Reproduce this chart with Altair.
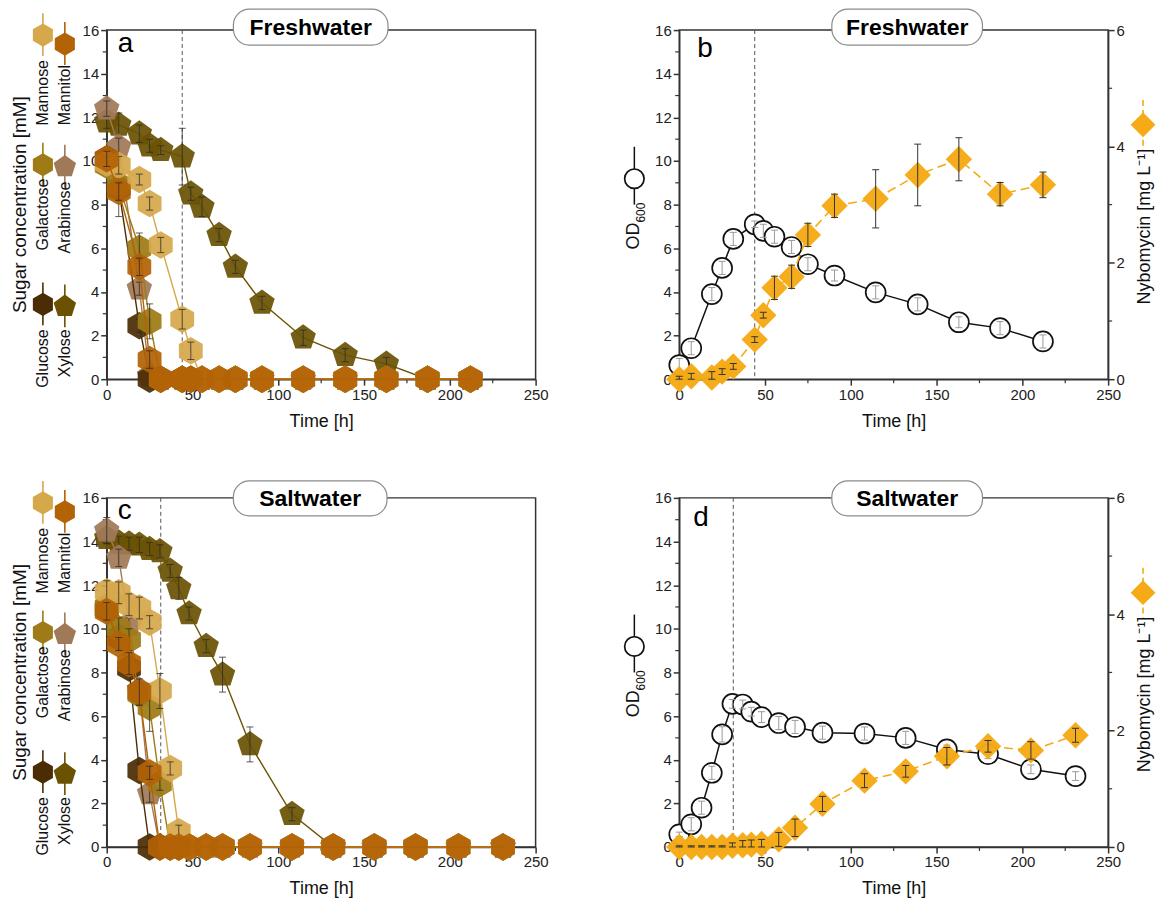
import altair as alt
import pandas as pd

FONT = "Liberation Sans"

# ---------------- data ----------------
fresh_time = [0, 7, 19, 25, 31.5, 44, 49, 55.5, 65.5, 75, 90.5, 114.5, 139, 163, 187, 212]
salt_time = [0, 7, 13, 19, 25, 31, 37, 42, 48, 58, 67.5, 83.5, 108, 132, 156, 180, 205, 231]

fresh_xylose = [11.8, 11.65, 11.25, 10.7, 10.5, 10.2, 8.5, 7.9, 6.6, 5.15, 3.5, 1.9, 1.1, 0.7, 0, 0]
fresh_arabinose = [12.4, 10.65, 4.15, 0.15, 0, 0, 0, 0, 0, 0, 0, 0, 0, 0, 0, 0]
fresh_glucose = [10.1, 8.75, 2.45, 0, 0, 0, 0, 0, 0, 0, 0, 0, 0, 0, 0, 0]
fresh_galactose = [9.8, 8.9, 6.0, 2.65, 0, 0, 0, 0, 0, 0, 0, 0, 0, 0, 0, 0]
fresh_mannose = [9.9, 9.8, 9.15, 8.05, 6.15, 2.75, 1.3, 0, 0, 0, 0, 0, 0, 0, 0, 0]
fresh_mannitol = [10.1, 8.6, 5.15, 0.9, 0, 0, 0, 0, 0, 0, 0, 0, 0, 0, 0, 0]

fresh_xylose_err = [0.3, 0.55, 0.4, 0.3, 0.2, 1.3, 0.3, 0.45, 0.3, 0.3, 0.3, 0.35, 0.3, 0.3, 0, 0]
fresh_arabinose_err = [0.35, 0.4, 0.3, 0.1, 0, 0, 0, 0, 0, 0, 0, 0, 0, 0, 0, 0]
fresh_glucose_err = [0.3, 1.3, 0.3, 0, 0, 0, 0, 0, 0, 0, 0, 0, 0, 0, 0, 0]
fresh_galactose_err = [0.3, 0.5, 0.7, 0.8, 0, 0, 0, 0, 0, 0, 0, 0, 0, 0, 0, 0]
fresh_mannose_err = [0.3, 0.4, 0.25, 0.3, 0.35, 0.45, 0.4, 0, 0, 0, 0, 0, 0, 0, 0, 0]
fresh_mannitol_err = [0.35, 0.4, 0.4, 0.4, 0, 0, 0, 0, 0, 0, 0, 0, 0, 0, 0, 0]

salt_xylose = [14.15, 13.95, 13.9, 13.85, 13.65, 13.55, 12.65, 11.85, 10.7, 9.2, 7.9, 4.7, 1.5, 0, 0, 0, 0, 0]
salt_arabinose = [14.5, 13.25, 10.2, 7.2, 2.45, 0, 0, 0, 0, 0, 0, 0, 0, 0, 0, 0, 0, 0]
salt_glucose = [10.9, 9.6, 8.2, 3.5, 0, 0, 0, 0, 0, 0, 0, 0, 0, 0, 0, 0, 0, 0]
salt_galactose = [11.0, 10.0, 9.5, 7.0, 6.4, 2.9, 0, 0, 0, 0, 0, 0, 0, 0, 0, 0, 0, 0]
salt_mannose = [11.7, 11.65, 11.1, 10.95, 10.3, 7.15, 3.6, 0.7, 0, 0, 0, 0, 0, 0, 0, 0, 0, 0]
salt_mannitol = [10.8, 9.3, 8.4, 7.1, 3.4, 0, 0, 0, 0, 0, 0, 0, 0, 0, 0, 0, 0, 0]

salt_xylose_err = [0.25, 0.3, 0.3, 0.35, 0.3, 0.3, 0.3, 0.5, 0.3, 0.3, 0.8, 0.8, 0.3, 0, 0, 0, 0, 0]
salt_arabinose_err = [0.6, 0.4, 0.3, 0.3, 0.4, 0, 0, 0, 0, 0, 0, 0, 0, 0, 0, 0, 0, 0]
salt_glucose_err = [0.3, 0.3, 0.3, 0.3, 0, 0, 0, 0, 0, 0, 0, 0, 0, 0, 0, 0, 0, 0]
salt_galactose_err = [0.3, 0.5, 0.5, 0.5, 1.1, 0.3, 0, 0, 0, 0, 0, 0, 0, 0, 0, 0, 0, 0]
salt_mannose_err = [0.5, 0.5, 0.5, 0.5, 0.3, 0.8, 0.3, 0.3, 0, 0, 0, 0, 0, 0, 0, 0, 0, 0]
salt_mannitol_err = [0.4, 0.3, 0.5, 0.6, 0.3, 0, 0, 0, 0, 0, 0, 0, 0, 0, 0, 0, 0, 0]

fresh_od = [0.65, 1.42, 3.9, 5.1, 6.43, 7.1, 6.8, 6.53, 6.06, 5.27, 4.75, 3.98, 3.43, 2.61, 2.34, 1.73]
fresh_od_err = [0.3, 0.3, 0.3, 0.3, 0.3, 0.15, 0.3, 0.3, 0.3, 0.3, 0.25, 0.3, 0.3, 0.25, 0.3, 0.3]
fresh_nyb = [0.0, 0.05, 0.03, 0.13, 0.22, 0.68, 1.1, 1.57, 1.76, 2.48, 2.98, 3.1, 3.51, 3.78, 3.18, 3.34]
fresh_nyb_err = [0.05, 0.05, 0.1, 0.05, 0.05, 0.05, 0.05, 0.2, 0.2, 0.2, 0.2, 0.5, 0.53, 0.37, 0.2, 0.22]

salt_od = [0.58, 1.04, 1.8, 3.4, 5.16, 6.56, 6.53, 6.2, 5.95, 5.68, 5.5, 5.24, 5.2, 5.0, 4.47, 4.25, 3.56, 3.25]
salt_od_err = [0.1, 0.3, 0.3, 0.3, 0.35, 0.2, 0.2, 0.2, 0.25, 0.3, 0.3, 0.3, 0.3, 0.3, 0.2, 0.2, 0.2, 0.2]
salt_nyb = [0, 0, 0, 0, 0, 0.02, 0.03, 0.04, 0.05, 0.13, 0.33, 0.74, 1.14, 1.3, 1.56, 1.73, 1.66, 1.92]
salt_nyb_err = [0.02, 0.02, 0.02, 0.02, 0.02, 0.05, 0.08, 0.08, 0.08, 0.12, 0.15, 0.13, 0.12, 0.1, 0.15, 0.1, 0.15, 0.12]

sugar_names = ["Xylose", "Arabinose", "Glucose", "Galactose", "Mannose", "Mannitol"]
sugar_colors = {
    "Glucose": "#4B2D05",
    "Galactose": "#9E7B16",
    "Mannose": "#D6A84C",
    "Xylose": "#6B5203",
    "Arabinose": "#A07A58",
    "Mannitol": "#B36205",
}
NYB_COLOR = "#F5AA16"

x_ticks = [0, 50, 100, 150, 200, 250]
x_minor = [25, 75, 125, 175, 225]
y_ticks = [0, 2, 4, 6, 8, 10, 12, 14, 16]
y_minor = [1, 3, 5, 7, 9, 11, 13, 15]
y2_ticks = [0, 2, 4, 6]
y2_minor = [1, 3, 5]

HEX = "M0,-1L0.866,-0.5L0.866,0.5L0,1L-0.866,0.5L-0.866,-0.5Z"
PENT = "M0,-1L0.951,-0.309L0.588,0.809L-0.588,0.809L-0.951,-0.309Z"
shape_of = {"Xylose": PENT, "Arabinose": PENT}

W, H = 430, 350
AX = "#333333"

xscale = alt.Scale(domain=[0, 250], nice=False, zero=False)
yscale = alt.Scale(domain=[0, 16], nice=False)
y2scale = alt.Scale(domain=[0, 6], nice=False)
xaxis = alt.Axis(values=x_ticks, title="Time [h]", labelFlush=False, labelOverlap=False, titlePadding=10)
yaxis = alt.Axis(values=y_ticks, title=None, labelOverlap=False)
y2axis = alt.Axis(values=y2_ticks, title=None, orient="right", labelOverlap=False)

one = pd.DataFrame({"d": [0]})


def X(f):
    return alt.X(f, type="quantitative", scale=xscale, axis=xaxis)


def Y(f, sc=yscale, ax=yaxis):
    return alt.Y(f, type="quantitative", scale=sc, axis=ax)


def err_layers(df, color, sc, ax, width=0.9, cap=7, opacity=1.0):
    d = df[df["e"] > 0]
    if len(d) == 0:
        return []
    base = alt.Chart(d)
    return [
        base.mark_rule(color=color, strokeWidth=width, opacity=opacity).encode(
            x=X("t"), y=Y("lo", sc, ax), y2=alt.Y2("hi")),
        base.mark_tick(orient="horizontal", size=cap, thickness=width, color=color, opacity=opacity).encode(
            x=X("t"), y=Y("lo", sc, ax)),
        base.mark_tick(orient="horizontal", size=cap, thickness=width, color=color, opacity=opacity).encode(
            x=X("t"), y=Y("hi", sc, ax)),
    ]


def minor_ticks_left(sc=yscale, ax=yaxis, vals=y_minor, side="left"):
    df = pd.DataFrame({"v": vals})
    if side == "left":
        x0, x1 = -4, 0
    else:
        x0, x1 = W, W + 4
    return alt.Chart(df).mark_rule(color=AX, strokeWidth=1.2).encode(
        y=Y("v", sc, ax), x=alt.value(x0), x2=alt.value(x1))


def minor_ticks_bottom():
    df = pd.DataFrame({"v": x_minor})
    return alt.Chart(df).mark_rule(color=AX, strokeWidth=1.2).encode(
        x=X("v"), y=alt.value(H), y2=alt.value(H + 4))


def dash_rule(t):
    return alt.Chart(pd.DataFrame({"t": [t]})).mark_rule(
        color="#555555", strokeWidth=1, strokeDash=[4, 3]).encode(x=X("t"))


def txt(s, x, y, size=15, angle=0, align="center", baseline="middle", weight="normal", color="#111111"):
    return alt.Chart(one).mark_text(
        text=s, fontSize=size, angle=angle, align=align, baseline=baseline,
        font=FONT, fontWeight=weight, color=color).encode(x=alt.value(x), y=alt.value(y))


def vline(x, y0, y1, color, width=1.5, dash=None):
    kw = dict(color=color, strokeWidth=width)
    if dash:
        kw["strokeDash"] = dash
    return alt.Chart(one).mark_rule(**kw).encode(
        x=alt.value(x), y=alt.value(y0), y2=alt.value(y1))


def sym(x, y, shape, size, color, fill=None, stroke=None, sw=0):
    if fill is None:
        return alt.Chart(one).mark_point(shape=shape, filled=True, size=size, color=color,
                                         opacity=1, strokeWidth=0).encode(x=alt.value(x), y=alt.value(y))
    return alt.Chart(one).mark_point(shape=shape, filled=True, size=size, fill=fill, stroke=stroke,
                                     strokeWidth=sw, opacity=1).encode(x=alt.value(x), y=alt.value(y))


def title_box(label, x0, x1, y0, y1):
    box = alt.Chart(one).mark_rect(fill="white", stroke="#8a8a8a", strokeWidth=1.2,
                                   cornerRadius=16).encode(
        x=alt.value(x0), x2=alt.value(x1), y=alt.value(y0), y2=alt.value(y1))
    t = txt(label, (x0 + x1) / 2, (y0 + y1) / 2 + 1, size=23, weight="bold", color="#000000")
    return [box, t]


def sugar_legend():
    L = []
    entries = [
        ("Mannose", -64, 5, 30), ("Galactose", -64, 135, 149), ("Glucose", -64, 275, 300),
        ("Mannitol", -42, 14, 35), ("Arabinose", -42, 137, 152), ("Xylose", -42, 277, 300),
    ]
    for name, x, ys, yt in entries:
        c = sugar_colors[name]
        shp = shape_of.get(name, HEX)
        L.append(vline(x, ys - 22, ys + 21, c, width=1.6))
        L.append(sym(x, ys, shp, 540 if shp == HEX else 560, c))
        L.append(txt(name, x, yt, size=16, angle=270, align="right"))
    L.append(txt("Sugar concentration [mM]", -87, 175, size=19, angle=270, align="center"))
    return L


def sugar_panel(times, series, errs, dash_t, letter, letter_xy, label, box, anchor=False):
    layers = [minor_ticks_left(), minor_ticks_bottom(), dash_rule(dash_t)]
    for name in sugar_names:
        v = series[name]
        e = errs[name]
        df = pd.DataFrame({"t": times, "c": v, "e": e})
        df["lo"] = df["c"] - df["e"]
        df["hi"] = df["c"] + df["e"]
        col = sugar_colors[name]
        shp = shape_of.get(name, HEX)
        base = alt.Chart(df)
        layers.append(base.mark_line(color=col, strokeWidth=1.4).encode(x=X("t"), y=Y("c")))
        layers.append(base.mark_point(shape=shp, filled=True, size=760 if shp == HEX else 720,
                                      color=col, opacity=0.93, strokeWidth=0).encode(x=X("t"), y=Y("c")))
        layers += err_layers(df, "#2a2a2a", yscale, yaxis, width=0.9, cap=7, opacity=0.85)
    layers += sugar_legend()
    layers += title_box(label, *box)
    layers.append(txt(letter, letter_xy[0], letter_xy[1], size=28, align="left", baseline="alphabetic",
                      color="#000000"))
    if anchor:
        layers.append(alt.Chart(one).mark_rule(opacity=0, strokeWidth=0.01).encode(
            x=alt.value(-106), x2=alt.value(-105), y=alt.value(-28), y2=alt.value(-27)))
    return alt.layer(*layers).properties(width=W, height=H)


def od_panel(times, od, od_err, nyb, nyb_err, dash_t, letter, letter_xy, label, box):
    df = pd.DataFrame({"t": times, "c": od, "e": od_err})
    df["lo"] = df["c"] - df["e"]
    df["hi"] = df["c"] + df["e"]
    dn = pd.DataFrame({"t": times, "c": nyb, "e": nyb_err})
    dn["lo"] = (dn["c"] - dn["e"]).clip(lower=0)
    dn["hi"] = dn["c"] + dn["e"]

    left = [minor_ticks_left(), minor_ticks_bottom(), dash_rule(dash_t)]
    left.append(alt.Chart(df).mark_line(color="#111111", strokeWidth=1.5).encode(x=X("t"), y=Y("c")))
    left.append(alt.Chart(df).mark_point(shape="circle", filled=True, size=400, fill="white",
                                         stroke="#111111", strokeWidth=1.7, opacity=1).encode(
        x=X("t"), y=Y("c")))
    left += err_layers(df, "#9a9a9a", yscale, yaxis, width=1.0, cap=7)
    left_layer = alt.layer(*left)

    right = [minor_ticks_left(y2scale, y2axis, y2_minor, side="right")]
    right.append(alt.Chart(dn).mark_line(color=NYB_COLOR, strokeWidth=1.6, strokeDash=[9, 5]).encode(
        x=X("t"), y=Y("c", y2scale, y2axis)))
    right.append(alt.Chart(dn).mark_point(shape="diamond", filled=True, size=700, color=NYB_COLOR,
                                          opacity=0.97, strokeWidth=0).encode(
        x=X("t"), y=Y("c", y2scale, y2axis)))
    right += err_layers(dn, "#333333", y2scale, y2axis, width=1.0, cap=7)
    right_layer = alt.layer(*right)

    deco = []
    deco.append(vline(-45, 117, 175, "#111111", width=1.5))
    deco.append(sym(-45, 149, "circle", 380, None, fill="white", stroke="#111111", sw=1.7))
    deco.append(txt("OD", -45, 220, size=18, angle=270, align="left"))
    deco.append(txt("600", -38, 193, size=12, angle=270, align="left"))
    deco.append(vline(465, 70, 121, NYB_COLOR, width=1.6, dash=[6, 4]))
    deco.append(sym(465, 95, "diamond", 620, NYB_COLOR))
    deco.append(txt("Nybomycin [mg L\u207b\u00b9]", 467, 275, size=18, angle=270, align="left"))
    deco += title_box(label, *box)
    deco.append(txt(letter, letter_xy[0], letter_xy[1], size=28, align="left", baseline="alphabetic",
                    color="#000000"))
    return alt.layer(left_layer, right_layer, *deco).resolve_scale(y="independent").properties(
        width=W, height=H)


fresh_series = {"Xylose": fresh_xylose, "Arabinose": fresh_arabinose, "Glucose": fresh_glucose,
                "Galactose": fresh_galactose, "Mannose": fresh_mannose, "Mannitol": fresh_mannitol}
fresh_errs = {"Xylose": fresh_xylose_err, "Arabinose": fresh_arabinose_err, "Glucose": fresh_glucose_err,
              "Galactose": fresh_galactose_err, "Mannose": fresh_mannose_err, "Mannitol": fresh_mannitol_err}
salt_series = {"Xylose": salt_xylose, "Arabinose": salt_arabinose, "Glucose": salt_glucose,
               "Galactose": salt_galactose, "Mannose": salt_mannose, "Mannitol": salt_mannitol}
salt_errs = {"Xylose": salt_xylose_err, "Arabinose": salt_arabinose_err, "Glucose": salt_glucose_err,
             "Galactose": salt_galactose_err, "Mannose": salt_mannose_err, "Mannitol": salt_mannitol_err}

pa = sugar_panel(fresh_time, fresh_series, fresh_errs, 44, "a", (11, 22), "Freshwater",
                 (127, 282, -21, 15), anchor=True)
pb = od_panel(fresh_time, fresh_od, fresh_od_err, fresh_nyb, fresh_nyb_err, 44, "b", (18, 27),
              "Freshwater", (153, 304, -21, 15))
pc = sugar_panel(salt_time, salt_series, salt_errs, 31.5, "c", (11, 21), "Saltwater",
                 (127, 281, -17, 18))
pd_ = od_panel(salt_time, salt_od, salt_od_err, salt_nyb, salt_nyb_err, 31.5, "d", (14, 28),
               "Saltwater", (153, 304, -17, 18))

chart = alt.concat(pa, pb, pc, pd_, columns=2, spacing={"row": 119, "column": 144},
                   bounds="flush").properties(
    padding={"left": 0, "top": 0, "right": 0, "bottom": 0}
).configure(background="white").configure_view(stroke=AX, strokeWidth=1.5).configure_axis(
    grid=False, domainColor=AX, domainWidth=1.5, tickColor=AX, tickWidth=1.5, tickSize=6,
    labelFont=FONT, labelFontSize=15, labelColor="#222222", labelPadding=2,
    titleFont=FONT, titleFontSize=18, titleFontWeight="normal", titleColor="#111111"
)

chart.save("out.html", embed_options={"renderer": "svg", "actions": False})
